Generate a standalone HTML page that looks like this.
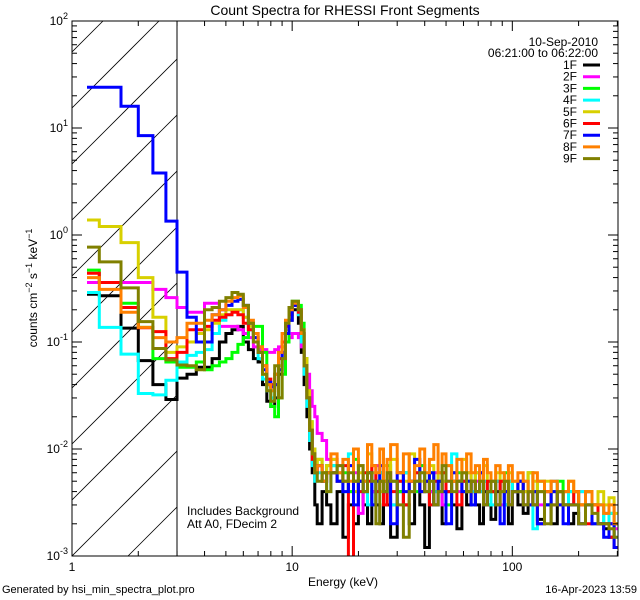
<!DOCTYPE html>
<html><head><meta charset="utf-8">
<style>
html,body{margin:0;padding:0;background:#fff;width:640px;height:600px;overflow:hidden;}
svg{display:block;font-family:"Liberation Sans",sans-serif;}
</style></head>
<body>
<svg id="chart" width="640" height="600" viewBox="0 0 640 600" xmlns="http://www.w3.org/2000/svg">
<defs><clipPath id="plotclip"><rect x="72" y="21" width="546" height="535"/></clipPath>
<clipPath id="hatchclip"><rect x="72" y="21" width="105" height="535"/></clipPath></defs>
<rect x="0" y="0" width="640" height="600" fill="#fff"/>
<text x="345" y="15" font-size="14" text-anchor="middle">Count Spectra for RHESSI Front Segments</text>
<g id="hatch" clip-path="url(#hatchclip)"></g>
<line x1="177" y1="21" x2="177" y2="556" stroke="#000" stroke-width="1"/>
<g id="series" clip-path="url(#plotclip)"></g>
<rect x="72" y="21" width="546" height="535" fill="none" stroke="#000" stroke-width="1"/>
<g id="axes"></g>
<text x="343" y="586" font-size="12" text-anchor="middle">Energy (keV)</text>
<text transform="translate(37,288) rotate(-90)" font-size="12" text-anchor="middle">counts cm<tspan dy="-5" font-size="9">−2</tspan><tspan dy="5"> s</tspan><tspan dy="-5" font-size="9">−1</tspan><tspan dy="5"> keV</tspan><tspan dy="-5" font-size="9">−1</tspan></text>
<text x="187" y="515" font-size="12">Includes Background</text>
<text x="187" y="528" font-size="12">Att A0, FDecim 2</text>
<text x="598" y="46" font-size="12" text-anchor="end">10-Sep-2010</text>
<text x="598" y="57" font-size="12" text-anchor="end">06:21:00 to 06:22:00</text>
<g id="legend"></g>
<text x="2" y="593" font-size="11">Generated by hsi_min_spectra_plot.pro</text>
<text x="637" y="593" font-size="11" text-anchor="end">16-Apr-2023 13:59</text>
</svg>
<script>
const edges=[1.17,1.33,1.67,2,2.33,2.67,3,3.33,3.67,4,4.33,4.67,5,5.33,5.67,6,6.33,6.67,7,7.33,7.67,8,8.33,8.67,9,9.33,9.67,10,10.33,10.67,11,11.33,11.67,12,12.33,12.67,13,13.67,14.33,15,16,17,18,19,20,21,22,23,24,25,26,27,28,30,32,34,36,38,40,42,44,46,48,50,53,56,59,62,65,68,71,74,77,80,84,88,92,96,100,106,112,118,124,130,140,150,160,170,180,190,200,215,230,245,260,275,290,300];
const seriesNames=["1F","2F","3F","4F","5F","6F","7F","8F","9F"];
const seriesColors=["#000000","#ff00ff","#00ff00","#00ffff","#d8d000","#ff0000","#0000ff","#ff8000","#808000"];
const xTicks=[1,10,100];
const xTickLabels=["1","10","100"];
const yTicks=[-3,-2,-1,0,1,2];
const d1F=[0.28,0.27,0.135,0.067,0.04,0.029,0.046,0.05,0.058,
0.058,0.07,0.1,0.12,0.13,0.14,0.1,0.085,0.07,0.065,0.04,0.028,0.025,0.03,0.05,0.08,0.12,0.16,0.2,0.2,0.15,0.08,0.04,0.02,0.01,0.006,0.003,0.002,0.004,0.003,
.002,.004,.0015,.003,.002,.005,.003,.002,.004,.003,.002,.005,.003,.0015,.004,.003,.002,.005,.003,.0012,.004,.003,.005,.002,.004,.003,.0018,.004,.003,.005,.003,.002,.004,.003,.0022,.004,.005,.003,.002,.004,.003,.0025,.004,.003,.0022,.003,.002,.004,.003,.002,.0025,.002,.004,.003,.002,.0018,.0015,.002];
const d2F=[0.36,0.36,0.36,0.36,0.31,0.26,0.21,0.19,0.19,
0.23,0.23,0.14,0.14,0.14,0.13,0.12,0.11,0.09,0.085,0.085,0.08,0.08,0.085,0.09,0.09,0.1,0.11,0.12,0.12,0.11,0.09,0.07,0.05,0.035,0.025,0.02,0.014,0.012,0.008,
.008,.007,.005,.004,.006,.0025,.005,.006,.004,.007,.005,.004,.006,.003,.005,.006,.004,.005,.007,.005,.004,.006,.005,.003,.005,.006,.004,.005,.006,.004,.005,.004,.003,.005,.004,.005,.003,.004,.005,.004,.004,.005,.003,.004,.003,.004,.005,.003,.004,.003,.003,.004,.003,.002,.003,.0025,.002,.0018];
const d3F=[0.47,0.36,0.23,0.137,0.07,0.065,0.058,0.058,0.065,
0.055,0.06,0.065,0.07,0.08,0.095,0.11,0.13,0.14,0.14,0.08,0.04,0.025,0.02,0.03,0.05,0.1,0.17,0.24,0.24,0.22,0.15,0.07,0.035,0.018,0.01,0.007,0.008,0.006,0.007,
.007,.005,.006,.004,.008,.005,.004,.006,.003,.005,.006,.004,.007,.005,.004,.006,.005,.004,.007,.005,.006,.004,.005,.006,.003,.005,.006,.005,.004,.005,.006,.004,.005,.003,.004,.005,.004,.006,.005,.004,.005,.004,.006,.004,.005,.003,.004,.005,.003,.004,.004,.003,.004,.003,.003,.002,.0025,.002];
const d4F=[0.29,0.137,0.077,0.033,0.032,0.044,0.065,0.075,0.08,
0.085,0.12,0.16,0.18,0.2,0.2,0.17,0.13,0.1,0.07,0.045,0.035,0.03,0.04,0.06,0.09,0.13,0.17,0.22,0.22,0.18,0.1,0.05,0.025,0.012,0.007,0.005,0.006,0.005,0.004,
.007,.005,.004,.009,.005,.004,.006,.003,.005,.004,.006,.005,.004,.003,.005,.006,.004,.005,.006,.004,.005,.004,.006,.005,.004,.009,.005,.004,.005,.004,.006,.004,.005,.004,.003,.005,.004,.003,.005,.004,.004,.005,.003,.0018,.004,.003,.005,.004,.003,.004,.003,.004,.003,.002,.003,.002,.0025,.0015];
const d5F=[1.38,1.2,0.85,0.4,0.17,0.08,0.09,0.1,0.12,
0.13,0.15,0.18,0.2,0.2,0.2,0.17,0.14,0.11,0.08,0.05,0.04,0.035,0.04,0.06,0.09,0.13,0.17,0.22,0.22,0.2,0.13,0.07,0.035,0.018,0.01,0.007,0.008,0.006,0.007,
.008,.006,.005,.007,.004,.006,.005,.009,.006,.005,.004,.007,.005,.008,.006,.005,.009,.006,.005,.004,.007,.005,.006,.005,.007,.006,.005,.008,.006,.005,.006,.005,.007,.005,.004,.006,.005,.004,.006,.005,.005,.004,.006,.005,.004,.005,.004,.003,.004,.005,.004,.003,.004,.003,.004,.003,.0035,.0025];
const d6F=[0.44,0.36,0.21,0.136,0.125,0.07,0.08,0.13,0.13,
0.14,0.16,0.17,0.18,0.19,0.18,0.15,0.13,0.12,0.09,0.06,0.045,0.04,0.05,0.07,0.1,0.14,0.18,0.22,0.22,0.19,0.12,0.06,0.03,0.015,0.008,0.006,0.007,0.005,0.006,
.006,.005,.007,.0008,.005,.004,.006,.005,.007,.004,.005,.003,.006,.004,.005,.003,.005,.006,.004,.005,.003,.005,.004,.006,.004,.005,.003,.005,.004,.005,.004,.006,.003,.005,.004,.003,.005,.004,.003,.004,.005,.003,.004,.003,.002,.004,.003,.004,.003,.003,.004,.003,.002,.003,.002,.002,.0015,.0012];
const d7F=[24,24,16,8.5,3.8,1.35,0.45,0.17,0.1,
0.1,0.18,0.2,0.22,0.24,0.25,0.22,0.15,0.11,0.08,0.055,0.042,0.038,0.04,0.055,0.08,0.12,0.16,0.22,0.22,0.2,0.12,0.06,0.03,0.015,0.009,0.006,0.007,0.005,0.006,
.006,.005,.004,.007,.003,.005,.004,.006,.003,.005,.007,.004,.005,.002,.006,.004,.005,.008,.004,.005,.006,.003,.005,.004,.002,.006,.005,.004,.005,.003,.004,.006,.003,.004,.005,.003,.002,.004,.003,.004,.005,.003,.003,.004,.002,.003,.004,.003,.002,.003,.003,.002,.003,.002,.002,.0015,.002,.0012];
const d8F=[0.4,0.31,0.19,0.137,0.11,0.1,0.11,0.15,0.15,
0.16,0.18,0.2,0.24,0.26,0.27,0.21,0.16,0.12,0.09,0.06,0.04,0.035,0.05,0.08,0.12,0.16,0.2,0.23,0.23,0.2,0.12,0.06,0.03,0.015,0.009,0.006,0.007,0.005,0.006,
.009,.006,.008,.005,.01,.007,.005,.011,.007,.006,.01,.005,.008,.011,.006,.009,.005,.007,.01,.006,.008,.011,.006,.009,.007,.005,.008,.006,.009,.006,.007,.005,.008,.006,.005,.007,.006,.005,.007,.005,.006,.005,.004,.006,.005,.004,.005,.004,.004,.005,.004,.003,.004,.003,.003,.0025,.003,.002];
const d9F=[0.77,0.56,0.32,0.155,0.087,0.068,0.061,0.06,0.055,
0.2,0.21,0.24,0.26,0.29,0.28,0.22,0.15,0.1,0.08,0.05,0.035,0.028,0.06,0.03,0.07,0.15,0.21,0.24,0.24,0.2,0.13,0.06,0.03,0.015,0.009,0.006,0.005,0.006,0.004,
.006,.007,.005,.006,.005,.007,.004,.006,.005,.002,.005,.004,.006,.005,.003,.0015,.004,.005,.006,.004,.005,.003,.004,.007,.005,.004,.005,.006,.004,.005,.004,.005,.003,.004,.005,.003,.004,.005,.003,.004,.004,.003,.004,.003,.004,.002,.003,.004,.003,.003,.003,.002,.003,.0025,.002,.002,.0018,.0015];
const seriesData=[d1F,d2F,d3F,d4F,d5F,d6F,d7F,d8F,d9F];

const NS="http://www.w3.org/2000/svg";
const X0=72,X1=618,Y0=21,Y1=556,XH=177;
const xMinLog=0,xMaxLog=Math.log10(302),yMinLog=-3,yMaxLog=2;
function xScale(e){return X0+(Math.log10(e)-xMinLog)/(xMaxLog-xMinLog)*(X1-X0);}
function yScale(v){const l=Math.log10(v);const y=Y1-(l-yMinLog)/(yMaxLog-yMinLog)*(Y1-Y0);return Math.min(y,Y1+1);}
function mk(tag,attrs,parent){const e=document.createElementNS(NS,tag);for(const k in attrs)e.setAttribute(k,attrs[k]);parent.appendChild(e);return e;}

const hatch=document.getElementById('hatch');
for(let k=-3;k<12;k++){
  const yb=Y1-k*56;
  // line y = yb - (x - X0), clip to box [X0,XH]x[Y0,Y1]
  let xa=X0, ya=yb; if(ya>Y1){xa=X0+(ya-Y1);ya=Y1;}
  let xb=XH, yb2=yb-(XH-X0); if(yb2<Y0){xb=X0+(yb-Y0);yb2=Y0;}
  if(xa>=xb)continue;
  const l=mk('line',{x1:xa,y1:ya,x2:xb,y2:yb2,stroke:'#000','stroke-width':0.8},hatch);
  
  
}

const axes=document.getElementById('axes');
for(let d=0;d<3;d++){for(let m=1;m<10;m++){
  const e=Math.pow(10,d)*m; if(e>302)continue;
  const x=xScale(e); const len=(m===1)?10:5;
  const t1=mk('line',{x1:x,y1:Y1,x2:x,y2:Y1-len,stroke:'#000'},axes);
  
  
  const t2=mk('line',{x1:x,y1:Y0,x2:x,y2:Y0+len,stroke:'#000'},axes);
  
  
}}
xTicks.forEach((e,i)=>{
  const t=mk('text',{x:xScale(e),y:Y1+15,'font-size':12,'text-anchor':'middle'},axes);
  t.textContent=xTickLabels[i];
  
  
});
for(let p=-3;p<2;p++){for(let m=1;m<10;m++){
  const v=Math.pow(10,p)*m; const y=yScale(v); const len=(m===1)?10:5;
  const a=mk('line',{x1:X0,y1:y,x2:X0+len,y2:y,stroke:'#000'},axes);
  
  
  const b=mk('line',{x1:X1,y1:y,x2:X1-len,y2:y,stroke:'#000'},axes);
  
  
}}
yTicks.forEach(p=>{
  const y=yScale(Math.pow(10,p));
  const t=mk('text',{x:X0-4,y:y+4,'font-size':12,'text-anchor':'end'},axes);
  
  
  t.innerHTML='10<tspan dy="-6" font-size="9">'+p+'</tspan>';
});

const sg=document.getElementById('series');
seriesData.forEach((vals,i)=>{
  let d='';
  const n=Math.min(vals.length,edges.length-1);
  for(let j=0;j<n;j++){
    const xa=xScale(edges[j]).toFixed(1),xb=Math.min(xScale(edges[j+1]),X1).toFixed(1),y=yScale(vals[j]).toFixed(1);
    d+=(j===0?'M':'L')+xa+' '+y+'L'+xb+' '+y;
  }
  const p=mk('path',{d:d,fill:'none',stroke:seriesColors[i],'stroke-width':3,'stroke-linejoin':'miter'},sg);
  
  
});

const lg=document.getElementById('legend');
seriesNames.forEach((nm,i)=>{
  const y=65+i*11.7;
  const t=mk('text',{x:577,y:y+4,'font-size':12,'text-anchor':'end'},lg);
  t.textContent=nm;
  
  
  const l=mk('line',{x1:583,y1:y,x2:600,y2:y,stroke:seriesColors[i],'stroke-width':3},lg);
  
  
});
</script>
</body></html>
